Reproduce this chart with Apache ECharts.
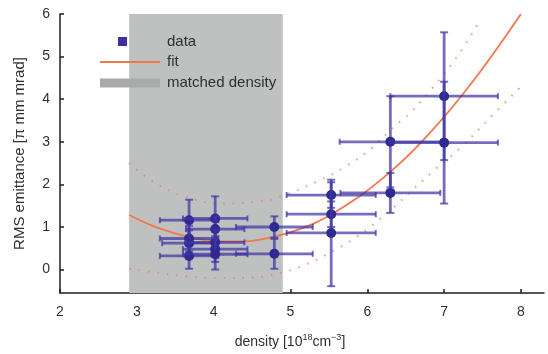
<!DOCTYPE html>
<html>
<head>
<meta charset="utf-8">
<script src="https://cdn.jsdelivr.net/npm/echarts@6/dist/echarts.min.js"></script>
<style>
  html, body { margin: 0; padding: 0; background: #ffffff; }
  #chart { width: 548px; height: 354px; }
</style>
</head>
<body>
<div id="chart"></div>
<script>
// Measured emittance points (density in 1e18 cm^-3, emittance in pi mm mrad)
const densities    = [3.68, 3.68, 3.68, 3.68, 4.02, 4.02, 4.02, 4.02, 4.02, 4.79, 4.79, 5.53, 5.53, 5.53, 6.30, 6.30, 7.00, 7.00];
const emittances   = [1.16, 0.73, 0.62, 0.32, 1.20, 0.95, 0.64, 0.48, 0.36, 1.00, 0.37, 1.75, 1.30, 0.86, 3.00, 1.80, 4.07, 2.98];
const densityErr   = [0.38, 0.38, 0.35, 0.38, 0.42, 0.38, 0.38, 0.42, 0.42, 0.50, 0.50, 0.58, 0.58, 0.58, 0.66, 0.65, 0.70, 0.70];
const emittanceErr = [0.48, 0.30, 0.30, 0.30, 0.52, 0.30, 0.30, 0.30, 0.36, 0.25, 0.35, 0.30, 0.30, 1.25, 1.07, 0.47, 1.50, 1.43];

// Quadratic fit through the data
const fitX = [2.9, 3.2, 3.5, 3.8, 4.1, 4.4, 4.7, 5.0, 5.3, 5.6, 5.9, 6.2, 6.5, 6.8, 7.1, 7.4, 7.7, 8.0];
const fitY = [1.28, 1.03, 0.85, 0.72, 0.66, 0.66, 0.74, 0.88, 1.08, 1.37, 1.72, 2.14, 2.62, 3.18, 3.80, 4.48, 5.22, 6.00];

// Confidence band of the fit (upper and lower limits)
const upperX = [2.9, 3.2, 3.6, 4.1, 4.6, 4.85, 5.35, 5.7, 6.05, 6.35, 6.55, 6.8, 7.15, 7.45];
const upperY = [2.5, 2.08, 1.73, 1.55, 1.6, 1.7, 2.07, 2.4, 2.84, 3.36, 3.66, 4.16, 4.95, 5.8];
const lowerX = [2.9, 3.2, 3.65, 4.1, 4.55, 4.85, 5.2, 5.6, 5.85, 6.05, 6.3, 6.5, 6.85, 7.2, 7.65, 8.0];
const lowerY = [0.02, -0.06, -0.16, -0.2, -0.18, -0.09, 0.12, 0.48, 0.75, 1.02, 1.39, 1.72, 2.3, 2.84, 3.66, 4.3];

// Density range where the beam is matched
const matchedRange = [2.9, 4.9];

// Axis ticks
const xTicks = [2, 3, 4, 5, 6, 7, 8];
const yTicks = [0, 1, 2, 3, 4, 5, 6];

const FONT = '"Liberation Sans", Arial, Helvetica, sans-serif';
const TEXT = '#2f2f2f';
const FIT_COLOR = '#f2774c';
const BAR_COLOR = 'rgba(62, 52, 164, 0.72)';
const MARK_COLOR = '#2f2a90';
const SHADE_COLOR = '#bfc1c1';

const zip = (xs, ys) => xs.map((x, i) => [x, ys[i]]);
const pointRows = densities.map((d, i) => [d, emittances[i], densityErr[i], emittanceErr[i]]);

function renderErrorBar(params, api) {
  const x = api.value(0), y = api.value(1), dx = api.value(2), dy = api.value(3);
  const c = api.coord([x, y]);
  const l = api.coord([x - dx, y]);
  const r = api.coord([x + dx, y]);
  const t = api.coord([x, y + dy]);
  const b = api.coord([x, y - dy]);
  const bar = { stroke: BAR_COLOR, lineWidth: 2.8 };
  const cap = { stroke: BAR_COLOR, lineWidth: 2 };
  const hc = 3, vc = 4;
  return {
    type: 'group',
    children: [
      { type: 'line', shape: { x1: l[0], y1: l[1], x2: r[0], y2: r[1] }, style: bar },
      { type: 'line', shape: { x1: l[0], y1: l[1] - hc, x2: l[0], y2: l[1] + hc }, style: cap },
      { type: 'line', shape: { x1: r[0], y1: r[1] - hc, x2: r[0], y2: r[1] + hc }, style: cap },
      { type: 'line', shape: { x1: t[0], y1: t[1], x2: b[0], y2: b[1] }, style: bar },
      { type: 'line', shape: { x1: t[0] - vc, y1: t[1], x2: t[0] + vc, y2: t[1] }, style: cap },
      { type: 'line', shape: { x1: b[0] - vc, y1: b[1], x2: b[0] + vc, y2: b[1] }, style: cap },
      { type: 'circle', shape: { cx: c[0], cy: c[1], r: 5 }, style: { fill: MARK_COLOR } }
    ]
  };
}

const chart = echarts.init(document.getElementById('chart'), null, { renderer: 'canvas' });

const axisCommon = {
  type: 'value',
  splitLine: { show: false },
  axisLine: { show: true, onZero: false, lineStyle: { color: '#1e1e1e', width: 1.5 } },
  axisTick: { show: true, inside: true, length: 4, lineStyle: { color: '#1e1e1e', width: 1.5 } },
  nameLocation: 'middle'
};

chart.setOption({
  animation: false,
  backgroundColor: '#ffffff',
  grid: { left: 60, right: 4, top: 14, bottom: 52, containLabel: false },
  xAxis: Object.assign({}, axisCommon, {
    min: 2, max: 8.3,
    axisTick: Object.assign({}, axisCommon.axisTick, { customValues: xTicks }),
    axisLabel: { customValues: xTicks, margin: 12, fontSize: 14, fontFamily: FONT, color: TEXT },
    name: '{t|density [10}{s|18}{t|cm}{s|−3}{t|]}',
    nameGap: 40,
    nameTextStyle: {
      padding: [0, 24, 0, 0],
      rich: {
        t: { fontSize: 14, fontFamily: FONT, color: TEXT, lineHeight: 18 },
        s: { fontSize: 9, fontFamily: FONT, color: TEXT, verticalAlign: 'top', lineHeight: 10 }
      }
    }
  }),
  yAxis: Object.assign({}, axisCommon, {
    min: -0.55, max: 6,
    axisTick: Object.assign({}, axisCommon.axisTick, { customValues: yTicks }),
    axisLabel: { customValues: yTicks, margin: 10, fontSize: 14, fontFamily: FONT, color: TEXT },
    name: 'RMS emittance [π mm mrad]',
    nameGap: 33,
    nameTextStyle: { fontSize: 15, fontFamily: FONT, color: TEXT }
  }),
  graphic: [
    { type: 'rect', left: 118, top: 37, shape: { width: 9, height: 9 }, style: { fill: '#3a30a2' }, z: 100 },
    { type: 'text', left: 167, top: 34, style: { text: 'data', font: '15px ' + FONT, fill: TEXT }, z: 100 },
    { type: 'line', shape: { x1: 100, y1: 62, x2: 160, y2: 62 }, style: { stroke: FIT_COLOR, lineWidth: 2 }, z: 100 },
    { type: 'text', left: 167, top: 54, style: { text: 'fit', font: '15px ' + FONT, fill: TEXT }, z: 100 },
    { type: 'line', shape: { x1: 100, y1: 83, x2: 160, y2: 83 }, style: { stroke: '#a9abab', lineWidth: 9 }, z: 100 },
    { type: 'text', left: 167, top: 75, style: { text: 'matched density', font: '15px ' + FONT, fill: TEXT }, z: 100 }
  ],
  series: [
    {
      name: 'matched density',
      type: 'line',
      data: [],
      z: 0,
      silent: true,
      markArea: {
        silent: true,
        itemStyle: { color: SHADE_COLOR },
        data: [[{ xAxis: matchedRange[0] }, { xAxis: matchedRange[1] }]]
      }
    },
    {
      name: 'upper',
      type: 'line',
      data: zip(upperX, upperY),
      smooth: 0.4,
      showSymbol: false,
      z: 2,
      lineStyle: { color: FIT_COLOR, width: 2, type: [1.5, 8], opacity: 0.75 }
    },
    {
      name: 'lower',
      type: 'line',
      data: zip(lowerX, lowerY),
      smooth: 0.4,
      showSymbol: false,
      z: 2,
      lineStyle: { color: FIT_COLOR, width: 2, type: [1.5, 8], opacity: 0.75 }
    },
    {
      name: 'fit',
      type: 'line',
      data: zip(fitX, fitY),
      smooth: 0.4,
      showSymbol: false,
      z: 3,
      lineStyle: { color: FIT_COLOR, width: 1.8 }
    },
    {
      name: 'data',
      type: 'custom',
      renderItem: renderErrorBar,
      data: pointRows,
      encode: { x: 0, y: 1 },
      z: 4
    }
  ]
});
</script>
</body>
</html>
